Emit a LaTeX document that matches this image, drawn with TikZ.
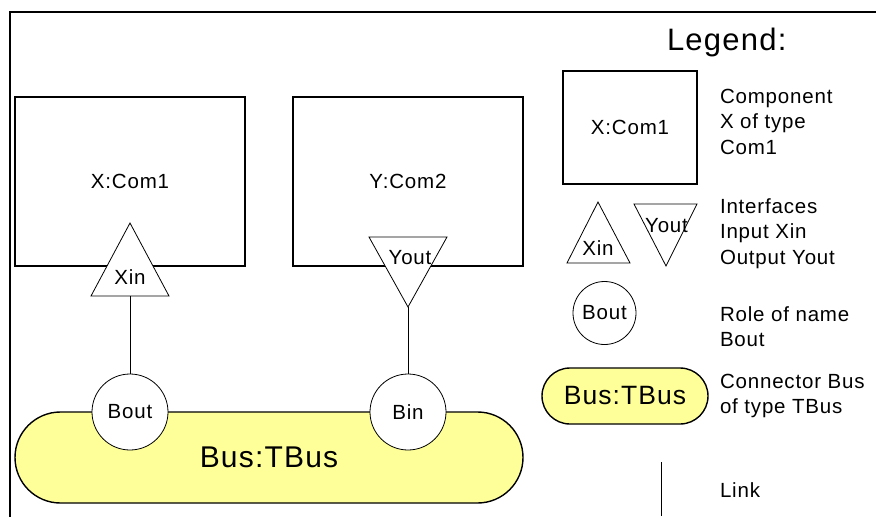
\documentclass[tikz,border=0pt]{standalone}
\usepackage{fontspec}
\setmainfont[LetterSpace=4]{Liberation Sans}
\definecolor{busyellow}{HTML}{FFFF99}
\newcommand\lblfont{\fontsize{20.5}{24}\selectfont}
\newcommand\busfont{\fontsize{30}{34}\selectfont}
\newcommand\legbusfont{\fontsize{26.5}{30}\selectfont}
\newcommand\legheadfont{\fontsize{31}{35}\selectfont}
\begin{document}
\begin{tikzpicture}[x=1pt,y=-1pt,
  every node/.style={inner sep=0pt, outer sep=0pt},
  comp/.style={draw, line width=1.4pt, minimum width=#1, font=\lblfont},
  comp/.default=230pt,
  iface/.style={draw, fill=white, line width=0.8pt, line join=miter},
  role/.style={circle, draw, fill=white, line width=0.8pt, minimum size=#1, font=\lblfont},
  role/.default=76pt,
  busnode/.style={draw, fill=busyellow, line width=1.4pt},
  link/.style={line width=0.8pt},
  lbl/.style={font=\lblfont, anchor=base},
  legtext/.style={font=\lblfont, anchor=base west}
]
\useasboundingbox (0,0) rectangle (876,517);
% frame
\draw[line width=2pt] (877,12) -- (10,12) -- (10,518);

% components
\node[comp, minimum height=169pt] (comX) at (130,181.5) {X:Com1};
\node[comp, minimum height=169pt] (comY) at (408,181.5) {Y:Com2};

% interfaces
\coordinate (xinA) at (130,223);
\coordinate (xinL) at (91,296);
\coordinate (xinR) at (169,296);
\coordinate (xinB) at (130,296);
\filldraw[iface] (xinA) -- (xinL) -- (xinR) -- cycle;
\node[lbl] (xin) at (130,284) {Xin};

\coordinate (youtL) at (369,237);
\coordinate (youtR) at (447,237);
\coordinate (youtA) at (408,307);
\filldraw[iface] (youtL) -- (youtR) -- (youtA) -- cycle;
\node[lbl] (yout) at (410,264) {Yout};

% connector
\node[busnode, rounded corners=45.5pt, minimum width=508pt, minimum height=91pt, font=\busfont] (bus) at (269,457.5) {Bus:TBus};

% roles
\node[role] (bout) at (130,412) {Bout};
\node[role] (bin) at (408,412) {Bin};

% links
\draw[link] (xinB) -- (bout);
\draw[link] (youtA) -- (bin);

% legend
\node[font=\legheadfont, anchor=base west] (leghead) at (667,50) {Legend:};

\node[comp, minimum width=134pt, minimum height=113pt] (legcom) at (630,127.5) {X:Com1};
\node[legtext] (lc1) at (720,103) {Component};
\node[legtext] (lc2) at (720,128.5) {X of type};
\node[legtext] (lc3) at (720,154) {Com1};

\coordinate (lxinA) at (598,202);
\coordinate (lxinL) at (567,263);
\coordinate (lxinR) at (630,263);
\filldraw[iface] (lxinA) -- (lxinL) -- (lxinR) -- cycle;
\node[lbl] (lxin) at (598,255) {Xin};

\coordinate (lyoutL) at (634,204);
\coordinate (lyoutR) at (697,204);
\coordinate (lyoutA) at (666,266);
\filldraw[iface] (lyoutL) -- (lyoutR) -- (lyoutA) -- cycle;
\node[lbl] (lyout) at (666.5,232) {Yout};

\node[legtext] (li1) at (720,213) {Interfaces};
\node[legtext] (li2) at (720,238.5) {Input Xin};
\node[legtext] (li3) at (720,264) {Output Yout};

\node[role=63pt] (lbout) at (604.5,313) {Bout};
\node[legtext] (lr1) at (720,321) {Role of name};
\node[legtext] (lr2) at (720,346) {Bout};

\node[busnode, rounded corners=28pt, minimum width=166pt, minimum height=56pt, font=\legbusfont] (lbus) at (625,396) {Bus:TBus};
\node[legtext] (lb1) at (720,388) {Connector Bus};
\node[legtext] (lb2) at (720,413) {of type TBus};

\coordinate (linkA) at (661,462);
\coordinate (linkB) at (661,516);
\draw[link] (linkA) -- (linkB);
\node[legtext] (ll) at (720,497) {Link};
\end{tikzpicture}
\end{document}
